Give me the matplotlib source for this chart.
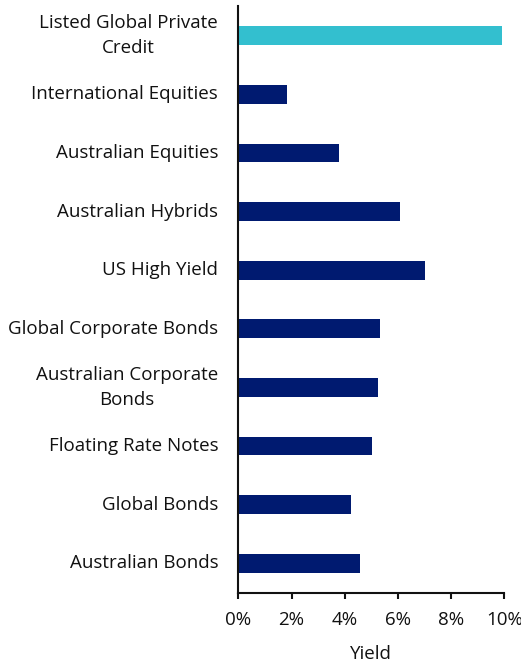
import numpy as np
import matplotlib.pyplot as plt
from matplotlib.ticker import FuncFormatter

plt.rcParams['font.family'] = ['Open Sans', 'DejaVu Sans']

# asset classes, top to bottom
labels = ['Listed Global Private\nCredit', 'International Equities', 'Australian Equities',
          'Australian Hybrids', 'US High Yield', 'Global Corporate Bonds',
          'Australian Corporate\nBonds', 'Floating Rate Notes', 'Global Bonds',
          'Australian Bonds']
yields = [9.90, 1.82, 3.77, 6.08, 7.01, 5.34, 5.26, 5.04, 4.22, 4.58]
highlight = [True] + [False] * 9

navy = '#001A70'
teal = '#33BFCF'

fig = plt.figure(figsize=(5.21, 6.62), dpi=100)
ax = fig.add_axes([238.3 / 521, 1 - 592.7 / 662, 266 / 521, (592.7 - 6.3) / 662])

ypos = np.arange(len(labels))
colors = [teal if h else navy for h in highlight]
ax.barh(ypos, yields, height=0.32, color=colors)

ax.set_ylim(len(labels) - 0.5, -0.5)
ax.set_xlim(0, 10)
ax.set_xticks(np.arange(0, 11, 2))
ax.xaxis.set_major_formatter(FuncFormatter(lambda v, p: f'{v:.0f}%'))
ax.set_yticks(ypos)
ax.set_yticklabels(labels, multialignment='center', linespacing=1.45, va='center')

for s in ['top', 'right']:
    ax.spines[s].set_visible(False)
for s in ['left', 'bottom']:
    ax.spines[s].set_linewidth(1.5)
    ax.spines[s].set_color('#111111')

ax.tick_params(axis='y', length=0, pad=14.5, labelsize=13.5, colors='#111111')
ax.tick_params(axis='x', length=4.5, width=1.5, pad=9, labelsize=13.5, colors='#111111')
ax.set_xlabel('Yield', fontsize=13.5, color='#111111', labelpad=11)

fig.savefig('out.png', dpi=100)
